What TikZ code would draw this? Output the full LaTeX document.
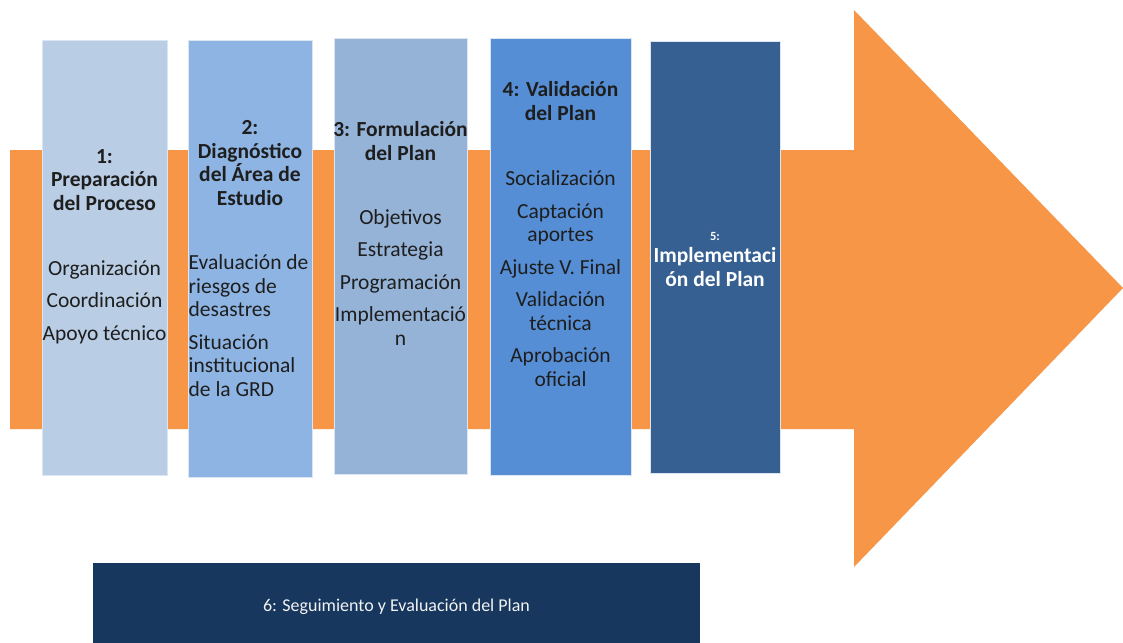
\documentclass[tikz,border=0pt]{standalone}
\usepackage{fontspec}
\setmainfont{Carlito}
\definecolor{arroworange}{HTML}{F79646}
\definecolor{cA}{HTML}{B9CDE5}
\definecolor{cB}{HTML}{8EB4E3}
\definecolor{cC}{HTML}{95B3D7}
\definecolor{cD}{HTML}{558ED5}
\definecolor{cE}{HTML}{376092}
\definecolor{cF}{HTML}{17375E}
\definecolor{txt}{HTML}{1E1E1E}
\definecolor{edge}{HTML}{DCE6F2}
\begin{document}
\begin{tikzpicture}[x=1pt,y=-1pt,
  colbox/.style={rectangle,draw=edge,line width=0.8pt,inner sep=0pt},
  ttl/.style={font=\fontsize{21.5}{23.5}\selectfont\bfseries,text=txt,align=center,inner sep=0pt,anchor=base},
  itm/.style={font=\fontsize{21.5}{23.5}\selectfont,text=txt,align=center,inner sep=0pt,anchor=base}]
\useasboundingbox (0,0) rectangle (1123,642);
% big arrow
\fill[arroworange] (10,150) -- (854,150) -- (854,10) -- (1123,288) -- (854,567) -- (854,429) -- (10,429) -- cycle;
% columns
\node[colbox,fill=cA,minimum width=125pt,minimum height=435pt] (b1) at (104.5,257.5) {};
\node[colbox,fill=cB,minimum width=124pt,minimum height=437pt] (b2) at (250,258.5) {};
\node[colbox,fill=cC,minimum width=133pt,minimum height=436pt] (b3) at (400.5,256) {};
\node[colbox,fill=cD,minimum width=141pt,minimum height=437pt] (b4) at (560.5,256.5) {};
\node[colbox,fill=cE,minimum width=130pt,minimum height=432pt] (b5) at (715,257) {};
\node[rectangle,fill=cF,inner sep=0pt,minimum width=607pt,minimum height=80pt] (b6) at (396.5,603) {};
% texts (base anchor = baseline of the last line)
\node[ttl] (t1) at (104.5,210) {1:\\Preparación\\del Proceso};
\node[itm] (i1) at (104.5,340) {Organización\\[9pt]Coordinación\\[9pt]Apoyo técnico};
\node[ttl] (t2) at (250,205) {2:\\Diagnóstico\\del Área de\\Estudio};
\node[itm,align=left,anchor=base west] (i2) at (188.5,396) {Evaluación de\\riesgos de\\desastres\\[9pt]Situación\\institucional\\de la GRD};
\node[ttl] (t3) at (400.5,160) {3: Formulación\\del Plan};
\node[itm] (i3) at (400.5,345) {Objetivos\\[9pt]Estrategia\\[9pt]Programación\\[9pt]Implementació\\n};
\node[ttl] (t4) at (560.5,120) {4: Validación\\del Plan};
\node[itm] (i4) at (560.5,386) {Socialización\\[9pt]Captación\\aportes\\[9pt]Ajuste V. Final\\[9pt]Validación\\técnica\\[9pt]Aprobación\\oficial};
\node[font=\fontsize{12.5}{13}\selectfont\bfseries,text=white,inner sep=0pt,anchor=base] (t5a) at (715,240) {5:};
\node[ttl,text=white] (t5) at (715,286) {Implementaci\\ón del Plan};
\node[font=\fontsize{18}{20}\selectfont,text=white!90!gray,inner sep=0pt,anchor=base] (t6) at (396.5,611) {6: Seguimiento y Evaluación del Plan};
\end{tikzpicture}
\end{document}
